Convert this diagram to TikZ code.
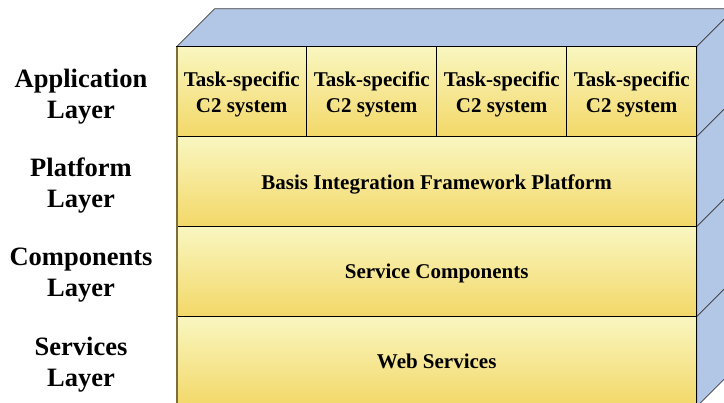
\documentclass[tikz,border=0pt]{standalone}
\usepackage{fontspec}
\setmainfont{Liberation Serif}
\usetikzlibrary{backgrounds}
\definecolor{sideblue}{RGB}{178,198,230}
\definecolor{ylTop}{RGB}{249,246,192}
\definecolor{ylBot}{RGB}{243,216,104}
\definecolor{edgeolive}{RGB}{125,110,55}
\tikzset{
  face/.style={fill=sideblue, draw=black!75, line width=0.7pt, line join=miter},
  layerbox/.style={draw=black, line width=1pt, top color=ylTop, bottom color=ylBot,
    minimum width=520pt, minimum height=90pt, inner sep=0pt, outer sep=0pt, text depth=0pt,
    font=\fontsize{21}{26}\selectfont\bfseries, align=center, anchor=north west},
  cell/.style={layerbox, minimum width=130pt},
  lbl/.style={font=\fontsize{26.5}{31}\selectfont\bfseries, align=center}
}
\begin{document}
\begin{tikzpicture}[x=1pt,y=-1pt]
\useasboundingbox (0,0) rectangle (724,403);
% front faces
\node[cell] (c1) at (176.7,46.7) {Task-specific\\C2 system};
\node[cell] (c2) at (306.7,46.7) {Task-specific\\C2 system};
\node[cell] (c3) at (436.7,46.7) {Task-specific\\C2 system};
\node[cell] (c4) at (566.7,46.7) {Task-specific\\C2 system};
\node[layerbox] (plat) at (176.7,136.7) {Basis Integration Framework Platform};
\node[layerbox] (comp) at (176.7,226.7) {Service Components};
\node[layerbox] (serv) at (176.7,316.7) {Web Services};
% left shadow edge
\draw[edgeolive, line width=2pt] (c1.north west) -- (serv.south west);
% top and side faces
\begin{scope}[on background layer]
  \draw[face] (c1.north west) -- ++(38,-38) -- ([shift={(38,-38)}]c4.north east) -- (c4.north east) -- cycle;
  \draw[face] (c4.north east) -- ++(38,-38) -- ([shift={(38,-38)}]c4.south east) -- (c4.south east) -- cycle;
  \draw[face] (plat.north east) -- ++(38,-38) -- ([shift={(38,-38)}]plat.south east) -- (plat.south east) -- cycle;
  \draw[face] (comp.north east) -- ++(38,-38) -- ([shift={(38,-38)}]comp.south east) -- (comp.south east) -- cycle;
  \draw[face] (serv.north east) -- ++(38,-38) -- ([shift={(38,-38)}]serv.south east) -- (serv.south east) -- cycle;
\end{scope}
% layer labels
\node[lbl] (lapp) at (81,96.5) {Application\\Layer};
\node[lbl] (lplat) at (81,186) {Platform\\Layer};
\node[lbl] (lcomp) at (81,275.5) {Components\\Layer};
\node[lbl] (lserv) at (81,365) {Services\\Layer};
\end{tikzpicture}
\end{document}
